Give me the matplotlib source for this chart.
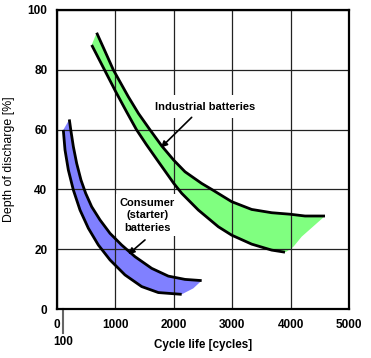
import numpy as np
import matplotlib.pyplot as plt

plt.rcParams["font.family"] = ["Liberation Sans", "DejaVu Sans"]

# industrial batteries band (cycles, depth of discharge %)
ind_upper_x = [679, 820, 964, 1221, 1395, 1590, 1795, 1998, 2192, 2477, 2649, 2991, 3333, 3676, 3990, 4247, 4589]
ind_upper_y = [92.4, 86.3, 80.0, 71.0, 65.4, 60.0, 54.5, 49.8, 45.9, 42.0, 40.0, 35.9, 33.3, 32.2, 31.7, 31.1, 31.1]
ind_lower_x = [594, 760, 1005, 1190, 1360, 1530, 1710, 2000, 2135, 2420, 2763, 2991, 3333, 3676, 3904]
ind_lower_y = [88.3, 82.0, 72.7, 66.0, 60.0, 55.0, 50.0, 42.0, 38.7, 33.1, 27.5, 24.7, 21.7, 19.7, 19.0]
ind_tip_x = [4190, 4047, 3933]
ind_tip_y = [24.2, 20.8, 19.2]

# consumer (starter) batteries band
con_upper_x = [211, 236, 280, 337, 411, 491, 594, 736, 908, 1107, 1336, 1621, 1906, 2192, 2477]
con_upper_y = [63.4, 59.9, 54.3, 48.7, 43.1, 38.7, 34.2, 29.8, 25.3, 21.4, 17.5, 13.6, 11.0, 9.9, 9.5]
con_lower_x = [108, 137, 194, 280, 394, 537, 708, 908, 1164, 1450, 1735, 2135]
con_lower_y = [59.9, 53.2, 46.5, 39.8, 33.1, 27.0, 21.4, 16.4, 11.4, 7.5, 5.5, 4.9]
con_tip_x = [2334]
con_tip_y = [6.9]

x_ticks = [0, 1000, 2000, 3000, 4000, 5000]
y_ticks = [0, 20, 40, 60, 80, 100]


def band(ax, ux, uy, lx, ly, tx, ty, color):
    px = list(ux) + list(tx) + list(lx)[::-1]
    py = list(uy) + list(ty) + list(ly)[::-1]
    ax.fill(px, py, color=color, lw=0, zorder=1)
    for xs, ys in ((ux, uy), (lx, ly)):
        ax.plot(xs, ys, color="black", lw=2.0, solid_capstyle="butt",
                solid_joinstyle="round", zorder=2)


def arrow(ax, start, tip):
    ax.annotate("", xy=tip, xytext=start,
                arrowprops=dict(arrowstyle="-|>", color="black", lw=1.2,
                                mutation_scale=9, shrinkA=0, shrinkB=0),
                zorder=4)


fig = plt.figure(figsize=(3.71, 3.58), dpi=100)
ax = fig.add_axes([57 / 371, 1 - 309 / 358, 292 / 371, 299 / 358])

band(ax, ind_upper_x, ind_upper_y, ind_lower_x, ind_lower_y, ind_tip_x, ind_tip_y, "#80ff80")
band(ax, con_upper_x, con_upper_y, con_lower_x, con_lower_y, con_tip_x, con_tip_y, "#8080ff")

ax.set_xlim(0, 5000)
ax.set_ylim(0, 100)
ax.set_xticks(x_ticks)
ax.set_yticks(y_ticks)
ax.tick_params(length=0, labelsize=8.5, pad=7)
for lab in ax.get_xticklabels() + ax.get_yticklabels():
    lab.set_fontweight("bold")
ax.grid(True, color="#222222", lw=0.9)
for s in ax.spines.values():
    s.set_linewidth(1.6)

# extra marker at 100 cycles
ax.plot([100, 100], [0, -8], color="#666666", lw=1.5, clip_on=False)
ax.text(100, -11.0, "100", ha="center", va="center", fontsize=8.5, fontweight="bold")

ax.set_xlabel("Cycle life [cycles]", fontsize=8.4, fontweight="bold", labelpad=6)
ax.set_ylabel("Depth of discharge [%]", fontsize=8.9, labelpad=9)

ax.text(2539, 67.7, "Industrial batteries", ha="center", va="center",
        fontsize=8, fontweight="bold", zorder=3,
        bbox=dict(boxstyle="square,pad=0.6", fc="white", ec="none"))
arrow(ax, (2306, 64.1), (1780, 54.0))

ax.text(1547, 31.4, "Consumer\n(starter)\nbatteries", ha="center", va="center",
        fontsize=8, fontweight="bold", linespacing=1.3, zorder=3,
        bbox=dict(boxstyle="square,pad=0.35", fc="white", ec="none"))
arrow(ax, (1507, 23.1), (1221, 18.3))

fig.savefig("out.png", dpi=100)
